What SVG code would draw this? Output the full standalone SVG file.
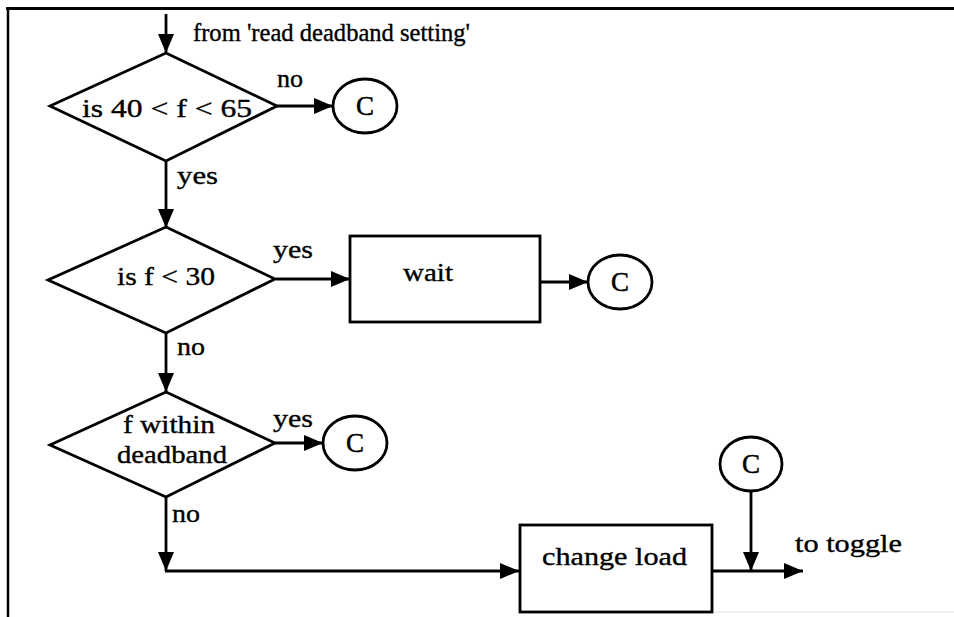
<svg xmlns="http://www.w3.org/2000/svg" width="954" height="617" viewBox="0 0 954 617">
  <style>
    .shape { fill: #fff; stroke: #000; stroke-width: 2.8; }
    .conn { fill: none; stroke: #000; stroke-width: 2.8; }
    .lbl { font-family: "Liberation Serif", "Times New Roman", serif; font-size: 25px; fill: #000; stroke: #000; stroke-width: 0.35; }
    .cee { font-family: "Liberation Serif", "Times New Roman", serif; font-size: 27px; fill: #000; stroke: #000; stroke-width: 0.5; text-anchor: middle; }
    .frame { stroke: #000; fill: none; }
  </style>
  <defs>
    <marker id="arrow" markerUnits="userSpaceOnUse" markerWidth="19" markerHeight="16" refX="19" refY="8" orient="auto">
      <path d="M0,0 L19,8 L0,16 z" fill="#000"/>
    </marker>
  </defs>

  <rect width="954" height="617" fill="#fff"/>

  <!-- page frame -->
  <g id="frame">
    <line class="frame" x1="6" y1="8.5" x2="954" y2="8.5" stroke-width="3"/>
    <line class="frame" x1="8" y1="8" x2="8" y2="617" stroke-width="2.5"/>
    <line x1="705" y1="612" x2="954" y2="612" stroke="#e2e2e2" stroke-width="1"/>
  </g>

  <!-- connectors -->
  <g id="connectors">
    <path class="conn" d="M166,14 V53" marker-end="url(#arrow)"/>
    <path class="conn" d="M277,106 H333" marker-end="url(#arrow)"/>
    <path class="conn" d="M166,161 V228" marker-end="url(#arrow)"/>
    <path class="conn" d="M276,279 H350" marker-end="url(#arrow)"/>
    <path class="conn" d="M540,282 H588" marker-end="url(#arrow)"/>
    <path class="conn" d="M166,333 V392" marker-end="url(#arrow)"/>
    <path class="conn" d="M275,443 H323" marker-end="url(#arrow)"/>
    <path class="conn" d="M166,497 V571" marker-end="url(#arrow)"/>
    <path class="conn" d="M165,571 H519" marker-end="url(#arrow)"/>
    <path class="conn" d="M712,571 H803" marker-end="url(#arrow)"/>
    <path class="conn" d="M751,491 V571" marker-end="url(#arrow)"/>

    <text class="lbl" x="193" y="41" textLength="277" lengthAdjust="spacingAndGlyphs">from  'read deadband setting'</text>
    <text class="lbl" x="277" y="87" textLength="26" lengthAdjust="spacingAndGlyphs">no</text>
    <text class="lbl" x="177" y="184" textLength="41" lengthAdjust="spacingAndGlyphs">yes</text>
    <text class="lbl" x="273" y="258" textLength="40" lengthAdjust="spacingAndGlyphs">yes</text>
    <text class="lbl" x="177" y="355" textLength="28" lengthAdjust="spacingAndGlyphs">no</text>
    <text class="lbl" x="273" y="427" textLength="40" lengthAdjust="spacingAndGlyphs">yes</text>
    <text class="lbl" x="172" y="522" textLength="28" lengthAdjust="spacingAndGlyphs">no</text>
    <text class="lbl" x="795" y="552" textLength="107" lengthAdjust="spacingAndGlyphs">to toggle</text>
  </g>

  <!-- decision: frequency range -->
  <g id="d-range">
    <polygon class="shape" points="166,53 277,106 166,161 50,106"/>
    <text class="lbl" x="82" y="117" textLength="170" lengthAdjust="spacingAndGlyphs">is 40 &lt; f &lt; 65</text>
  </g>

  <!-- connector C (range fail) -->
  <g id="c-1">
    <ellipse class="shape" cx="365" cy="106" rx="32" ry="27" stroke-width="2.2"/>
    <text class="cee" x="365" y="115">C</text>
  </g>

  <!-- decision: below 30 -->
  <g id="d-low">
    <polygon class="shape" points="166,227 275,279 166,333 48,280"/>
    <text class="lbl" x="117" y="285" textLength="98" lengthAdjust="spacingAndGlyphs">is f &lt; 30</text>
  </g>

  <!-- process: wait -->
  <g id="p-wait">
    <rect class="shape" x="350" y="236" width="190" height="86"/>
    <text class="lbl" x="403" y="281" textLength="50" lengthAdjust="spacingAndGlyphs">wait</text>
  </g>

  <!-- connector C after wait -->
  <g id="c-2">
    <ellipse class="shape" cx="620" cy="282" rx="32" ry="27" stroke-width="2.2"/>
    <text class="cee" x="620" y="291">C</text>
  </g>

  <!-- decision: within deadband -->
  <g id="d-deadband">
    <polygon class="shape" points="166,392 275,443 166,497 50,445"/>
    <text class="lbl" x="123" y="433" textLength="92" lengthAdjust="spacingAndGlyphs">f within</text>
    <text class="lbl" x="117" y="463" textLength="110" lengthAdjust="spacingAndGlyphs">deadband</text>
  </g>

  <!-- connector C (inside deadband) -->
  <g id="c-3">
    <ellipse class="shape" cx="355" cy="443" rx="32" ry="27" stroke-width="2.2"/>
    <text class="cee" x="355" y="452">C</text>
  </g>

  <!-- process: change load -->
  <g id="p-change">
    <rect class="shape" x="520" y="525" width="192" height="87"/>
    <text class="lbl" x="542" y="565" textLength="145" lengthAdjust="spacingAndGlyphs">change load</text>
  </g>

  <!-- connector C (joining output) -->
  <g id="c-4">
    <ellipse class="shape" cx="751" cy="464" rx="31" ry="27" stroke-width="2.2"/>
    <text class="cee" x="751" y="473">C</text>
  </g>
</svg>
